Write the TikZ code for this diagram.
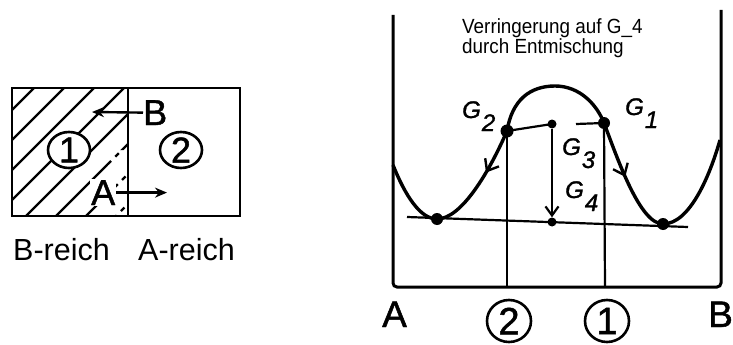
\documentclass[tikz,border=0pt]{standalone}
\usepackage{fontspec}
\setmainfont{Liberation Sans}
\newfontfamily\titlefont[FakeStretch=0.92]{Liberation Sans}
\newfontfamily\lettering[FakeBold=1.3]{Liberation Sans}
\usetikzlibrary{arrows.meta,shapes.geometric,decorations.markings}
\newcommand{\fsz}[1]{\fontsize{#1}{#1}\selectfont}
\newcommand{\Gsub}[1]{\textit{G}\kern1pt\raisebox{-13pt}{\textit{#1}}}
\begin{document}
\begin{tikzpicture}[x=1pt,y=-1pt,
  hatchln/.style={line width=2.4pt},
  boxln/.style={line width=2.8pt},
  axisln/.style={line width=3pt},
  curveln/.style={line width=3.4pt},
  thinln/.style={line width=2.2pt},
  lbl/.style={inner sep=0pt, anchor=base west},
  llbl/.style={inner sep=0pt, anchor=base west, font=\lettering\fsz{#1}},
  glbl/.style={inner sep=0pt, anchor=base west, font=\lettering\fsz{24}},
  cbox/.style={draw, line width=2.6pt, ellipse, inner sep=-2pt, minimum width=42pt, minimum height=36pt, font=\lettering\fsz{36}},
  cbot/.style={draw, line width=2.6pt, ellipse, inner sep=-2pt, minimum width=44pt, minimum height=42pt, font=\lettering\fsz{38}},
  dot/.style={circle, fill=black, inner sep=0pt, minimum size=#1},
  barb/.style={-{Straight Barb[length=9pt,width=13pt,line width=2.2pt]}},
  midbarb/.style={decorate, decoration={markings, mark=at position #1 with {\arrow{Straight Barb[length=10pt,width=16pt,line width=2.4pt]}}}},
  midbarbrev/.style={decorate, decoration={markings, mark=at position #1 with {\arrowreversed{Straight Barb[length=10pt,width=16pt,line width=2.4pt]}}}}
]
\useasboundingbox (0,0) rectangle (733,345);

% ---------- left box ----------
\begin{scope}
  \clip (12,88) -- (128,88) -- (128,150) -- (108,150) -- (108,216) -- (12,216) -- cycle;
  \foreach \c in {122,152,...,332} \draw[hatchln] (\c-250,250) -- (\c,0);
\end{scope}
\begin{scope}
  \clip (108,150) rectangle (128,216);
  \foreach \c in {122,152,...,332} \draw[hatchln, dash pattern=on 5pt off 6pt] (\c-250,250) -- (\c,0);
\end{scope}
\draw[boxln] (12,88) rectangle (240,216);
\draw[boxln] (128,88) -- (128,216);

\node[cbox, fill=white] (b1) at (69,150) {1};
\node[cbox] (b2) at (181,150) {2};

\node[llbl=36] (bB) at (143,125) {B};
\coordinate (bBtip) at (92,112);
\draw[line width=2.4pt, -{Stealth[length=12pt,width=10pt]}] (bB.west) -- (bBtip);

\node[llbl=36, fill=white, inner sep=1pt] (bA) at (90,205) {A};
\coordinate (bAx) at (167,0);
\draw[line width=2.4pt, -{Stealth[length=12pt,width=10pt]}] (bA.east) -- (bA.east -| bAx);

\node[lbl, font=\fsz{30.5}] (br) at (13,260) {B-reich};
\node[lbl, font=\fsz{30.5}] (ar) at (138,260) {A-reich};

% ---------- right diagram ----------
\node[inner sep=0pt, anchor=north west, align=left, font=\titlefont\fontsize{20.5}{18}\selectfont] (title) at (462,18) {Verringerung auf G\_4\\durch Entmischung};

\coordinate (AxTL) at (393,15);
\coordinate (AxBL) at (393,287);
\coordinate (AxBR) at (721,287);
\coordinate (AxTR) at (721,10);
\draw[axisln, rounded corners=4pt] (AxTL) -- (AxBL) -- (AxBR) -- (AxTR);

\coordinate (L0) at (393,165);
\coordinate (M1) at (437,219);
\coordinate (P2) at (507,131);
\coordinate (Top) at (555,86);
\coordinate (P1) at (604,123);
\coordinate (M2) at (663,224);
\coordinate (R0) at (720,140);
\coordinate (G3) at (552,124);
\coordinate (G4) at (552,222);

\draw[curveln] (L0) .. controls (405,195) and (420,219) .. (M1)
  .. controls (462,219) and (490,170) .. (P2)
  .. controls (512,100) and (530,86) .. (Top)
  .. controls (580,86) and (597,105) .. (P1)
  .. controls (618,160) and (640,224) .. (M2)
  .. controls (690,224) and (710,175) .. (R0);
\path[midbarbrev=0.6] (M1) .. controls (462,219) and (490,170) .. (P2);
\path[midbarb=0.48] (P1) .. controls (618,160) and (640,224) .. (M2);

% tangent
\coordinate (T0) at (407,217);
\coordinate (T1) at (688,227);
\draw[thinln] (T0) -- (T1);

% dots
\node[dot=12pt] (dM1) at (M1) {};
\node[dot=13pt] (dP2) at (P2) {};
\node[dot=12pt] (dP1) at (P1) {};
\node[dot=12pt] (dM2) at (M2) {};
\node[dot=9pt] (dG3) at (G3) {};
\node[dot=9pt] (dG4) at (G4) {};

% vertical lines
\coordinate (V2) at (507,287);
\coordinate (V1) at (605,287);
\draw[thinln] (P2) -- (V2);
\draw[thinln] (P1) -- (V1);

% chord
\coordinate (chR) at (576,124);
\draw[thinln] (P2) -- (G3);
\draw[thinln] (chR) -- (P1);
\draw[thinln, barb] (dG3) -- (dG4);

% labels
\node[glbl] (g2) at (462,118) {\Gsub{2}};
\node[glbl] (g1) at (625,115) {\Gsub{1}};
\node[glbl] (g3) at (562,155) {\Gsub{3}};
\node[glbl] (g4) at (565,198) {\Gsub{4}};

\node[llbl=37] (xA) at (382,327) {A};
\node[llbl=37] (xB) at (708,327) {B};
\node[cbot] (n2) at (509,321) {2};
\node[cbot] (n1) at (607,321) {1};
\end{tikzpicture}
\end{document}
